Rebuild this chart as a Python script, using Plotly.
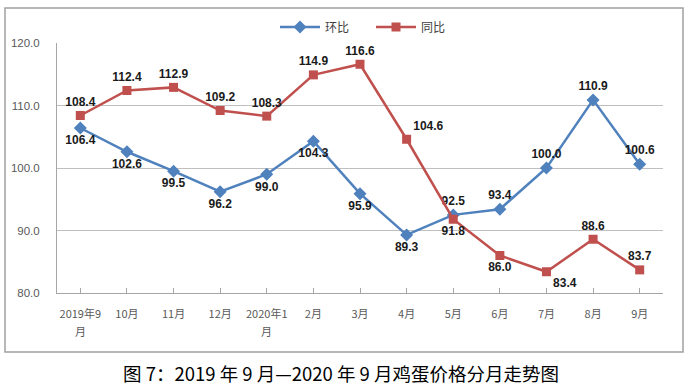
import plotly.graph_objects as go

categories = ["2019年9", "10月", "11月", "12月", "2020年1", "2月", "3月",
              "4月", "5月", "6月", "7月", "8月", "9月"]
wrap_lines = {0: "月", 4: "月"}  # second line of wrapped category labels
huanbi = [106.4, 102.6, 99.5, 96.2, 99.0, 104.3, 95.9, 89.3, 92.5, 93.4, 100.0, 110.9, 100.6]
tongbi = [108.4, 112.4, 112.9, 109.2, 108.3, 114.9, 116.6, 104.6, 91.8, 86.0, 83.4, 88.6, 83.7]
huanbi_pos = ["bottom center"] * 8 + ["top center"] * 5
tongbi_pos = ["top center"] * 7 + ["top right", "bottom center", "bottom center",
                                   "bottom right", "top center", "top center"]
y_ticks = [80, 90, 100, 110, 120]
title = "图 7：2019 年 9 月—2020 年 9 月鸡蛋价格分月走势图"

W, H = 695, 387
L, R, T, B = 57, 663, 43, 293
pw, ph = R - L, B - T

def px(x):
    return (x - L) / pw

def py(y):
    return (B - y) / ph

lab_font = dict(family="Liberation Sans, Arial", size=12, color="#1a1a1a")
tick_font = dict(family="Noto Sans CJK SC", size=11, color="#595959")

fig = go.Figure()
fig.add_trace(go.Scatter(
    x=list(range(len(categories))), y=huanbi, name="环比", mode="lines+markers+text",
    line=dict(color="#4F81BD", width=2.5),
    marker=dict(symbol="diamond", size=10, color="#4F81BD"),
    text=[f"<b>{v:.1f}</b>" for v in huanbi], textposition=huanbi_pos,
    textfont=lab_font, cliponaxis=False,
))
fig.add_trace(go.Scatter(
    x=list(range(len(categories))), y=tongbi, name="同比", mode="lines+markers+text",
    line=dict(color="#C0504D", width=2.5),
    marker=dict(symbol="square", size=9, color="#C0504D"),
    text=[f"<b>{v:.1f}</b>" for v in tongbi], textposition=tongbi_pos,
    textfont=lab_font, cliponaxis=False,
))

annotations = [dict(text=title, xref="paper", yref="paper", x=px(341), y=py(373),
                    showarrow=False, xanchor="center", yanchor="middle",
                    font=dict(family="Noto Sans CJK SC", size=18.5, color="#000000"))]
for idx, txt in wrap_lines.items():
    annotations.append(dict(text=txt, xref="x", yref="paper", x=idx, y=py(331),
                            showarrow=False, xanchor="center", yanchor="middle",
                            font=tick_font))

fig.update_layout(
    width=W, height=H,
    margin=dict(l=L, r=W - R, t=T, b=H - B, autoexpand=False),
    paper_bgcolor="white", plot_bgcolor="white",
    font=dict(family="Noto Sans CJK SC, Liberation Sans", size=11, color="#595959"),
    showlegend=True,
    legend=dict(orientation="h", x=px(275), y=py(27), xanchor="left", yanchor="middle",
                font=dict(family="Noto Sans CJK SC", size=12, color="#404040"),
                entrywidth=41, bgcolor="rgba(0,0,0,0)", itemwidth=40),
    xaxis=dict(
        tickmode="array", tickvals=list(range(len(categories))), ticktext=categories,
        range=[-0.5, len(categories) - 0.5], showgrid=False,
        showline=True, linecolor="#A6A6A6", linewidth=1,
        ticks="inside", ticklen=5, tickcolor="#A6A6A6", ticklabelstandoff=11,
        tickfont=tick_font, zeroline=False, fixedrange=True,
    ),
    yaxis=dict(
        range=[80, 120], tickvals=y_ticks, ticktext=[f"{v:.1f}" for v in y_ticks],
        showgrid=True, gridcolor="#BFBFBF", gridwidth=1,
        showline=True, linecolor="#A6A6A6", linewidth=1,
        ticks="", ticklabelstandoff=14,
        tickfont=dict(family="Liberation Sans, Arial", size=11.5, color="#595959"),
        zeroline=False,
    ),
    shapes=[dict(type="rect", xref="paper", yref="paper",
                 x0=px(5), x1=px(683), y0=py(352), y1=py(8),
                 line=dict(color="#A0A0A0", width=1.5), layer="below")],
    annotations=annotations,
)
fig.write_html("out.html", config={"displayModeBar": False},
               post_script="document.body.style.margin='0px';")
